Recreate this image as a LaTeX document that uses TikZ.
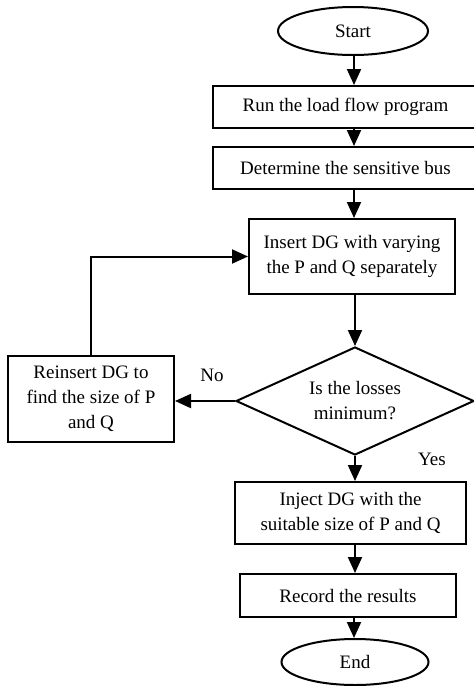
\documentclass[tikz,border=0pt]{standalone}
\usepackage{fontspec}
\setmainfont{Liberation Serif}
\usetikzlibrary{shapes.geometric,arrows.meta}
\begin{document}
\begin{tikzpicture}[x=1pt,y=-1pt,
  every node/.style={font=\fontsize{19}{25}\selectfont, inner sep=0pt},
  procbox/.style={draw, line width=2pt, rectangle, align=center},
  termbox/.style={draw, line width=2pt, ellipse},
  decbox/.style={draw, line width=2pt, diamond, shape aspect=2.2, align=center},
  flow/.style={line width=2pt, -{Triangle[length=16pt,width=14pt]}},
  lbl/.style={font=\fontsize{19}{25}\selectfont}]
\useasboundingbox (0,0) rectangle (474,686);
\node[termbox, minimum width=150pt, minimum height=48pt] (start) at (353,31) {Start};
\node[procbox, minimum width=265pt, minimum height=42pt] (b1) at (345.5,107) {Run the load flow program};
\node[procbox, minimum width=265pt, minimum height=42pt] (b2) at (345.5,168) {Determine the sensitive bus};
\node[procbox, minimum width=206pt, minimum height=75pt] (b3) at (352,256.5) {Insert DG with varying\\the P and Q separately};
\node[decbox, minimum width=238pt, minimum height=108pt] (dia) at (355,401) {Is the losses\\minimum?};
\node[procbox, minimum width=166pt, minimum height=86pt] (left) at (91,399) {Reinsert DG to\\find the size of P\\and Q};
\node[procbox, minimum width=231pt, minimum height=62pt] (b4) at (350.5,513) {Inject DG with the\\suitable size of P and Q};
\node[procbox, minimum width=216pt, minimum height=43pt] (b5) at (348,595.5) {Record the results};
\node[termbox, minimum width=147pt, minimum height=46pt] (end) at (355,662) {End};
\node[lbl] (no) at (212,375) {No};
\node[lbl] (yes) at (432,459) {Yes};
\coordinate (cx) at (354,0);
\draw[flow] (start.south -| cx) -- (b1.north -| cx);
\draw[flow] (b1.south -| cx) -- (b2.north -| cx);
\draw[flow] (b2.south -| cx) -- (b3.north -| cx);
\draw[flow] (b3.south -| dia.north) -- (dia.north);
\draw[flow] (dia.west) -- (dia.west -| left.east);
\draw[flow] (left.north) |- (b3.west);
\draw[flow] (dia.south) -- (b4.north -| dia.south);
\draw[flow] (b4.south -| dia.south) -- (b5.north -| dia.south);
\draw[flow] (b5.south -| cx) -- (end.north -| cx);
\end{tikzpicture}
\end{document}
